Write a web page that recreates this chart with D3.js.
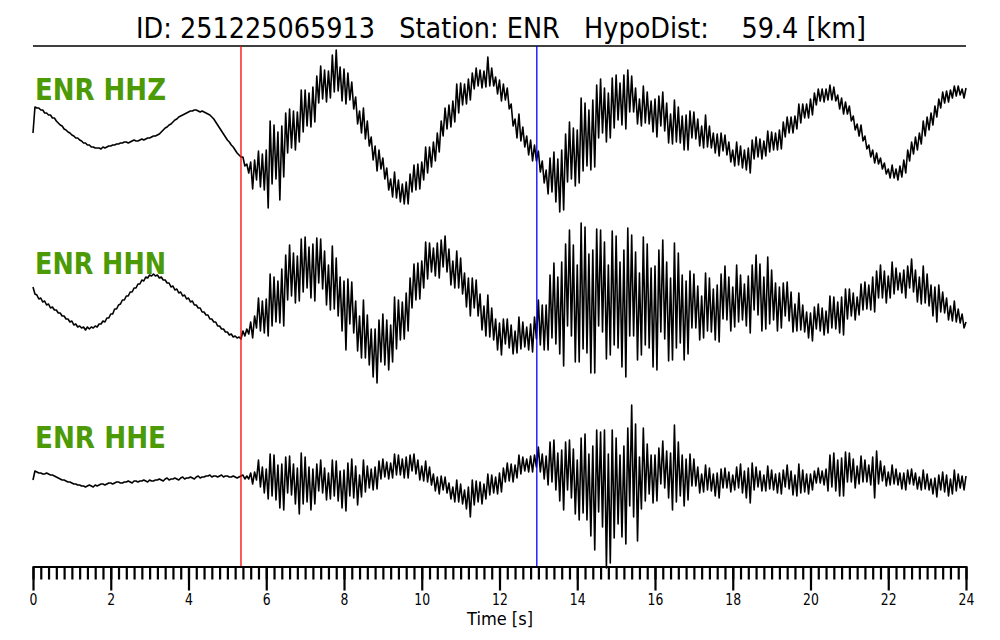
<!DOCTYPE html>
<html><head><meta charset="utf-8">
<script src="https://cdn.jsdelivr.net/npm/d3@7"></script>
<style>body{margin:0;background:#fff}svg{display:block}</style>
</head><body>
<svg id="c" width="1000" height="640"></svg>
<script>
// ---------------- data ----------------
const titleText = "ID: 251225065913   Station: ENR   HypoDist:    59.4 [km]";
const channels = ["ENR HHZ", "ENR HHN", "ENR HHE"];
const sampleInterval = 0.05; // seconds between samples
const pickTimes = [5.35, 12.96]; // P (red), S (blue)
const majorTickValues = [0, 2, 4, 6, 8, 10, 12, 14, 16, 18, 20, 22, 24];
const axisLabel = "Time [s]";

// one row = 1 s (20 samples)
const hhz = [
 -3,23,22,22,20,20,17,17,15,15,12,12,9,7,5,4,1,0,-2,-3,
 -5,-6,-8,-8,-10,-11,-13,-13,-15,-15,-17,-17,-18,-18,-18,-19,-17,-18,-17,-16,
 -16,-15,-15,-14,-14,-13,-13,-12,-12,-13,-12,-11,-10,-11,-11,-10,-9,-10,-9,-8,
 -8,-7,-6,-6,-5,-4,-2,0,2,3,5,6,8,10,11,13,14,15,16,17,
 18,19,19,20,20,19,18,19,18,17,16,15,13,11,8,5,2,-1,-4,-7,
 -10,-12,-15,-17,-20,-23,-25,-27,-27,-36,-34,-43,-32,-59,-30,-50,-21,-57,-24,-60,
 -20,-78,9,-54,5,-49,-2,-70,4,-47,17,-23,21,-18,19,-20,18,-12,40,-2,
 40,4,37,3,43,8,54,27,64,31,60,28,59,32,75,38,80,39,63,29,
 61,26,57,30,48,21,33,6,19,-3,22,-9,9,-16,-7,-30,-16,-41,-20,-39,
 -28,-49,-38,-60,-49,-67,-42,-68,-50,-72,-54,-74,-52,-74,-44,-62,-35,-60,-34,-59,
 -32,-50,-17,-43,-17,-37,-12,-31,-3,-22,9,-6,22,1,25,3,29,8,46,17,
 47,25,46,26,51,30,57,41,62,44,60,42,59,43,73,44,62,44,53,36,
 50,29,46,30,42,21,26,4,11,-8,16,-11,3,-17,-6,-25,-10,-31,-15,-31,
 -21,-42,-31,-53,-40,-64,-28,-62,-22,-72,-29,-82,-20,-80,-4,-52,8,-49,2,-56,
 0,-53,32,-41,27,-36,20,-40,30,-37,45,-8,51,-3,42,-12,37,-8,52,2,
 55,10,47,5,55,1,60,18,54,18,42,6,31,4,44,7,38,6,29,-2,
 31,-7,34,4,38,-1,27,-13,16,-14,30,-12,23,-13,14,-20,15,-20,19,-8,
 18,-9,11,-16,4,-18,15,-17,4,-18,-3,-23,-4,-26,-3,-21,-5,-25,-12,-32,
 -20,-36,-12,-35,-16,-38,-20,-40,-18,-43,-10,-29,-7,-27,-9,-29,-11,-26,-1,-22,
 -2,-20,-3,-20,0,-19,8,-7,13,-3,13,-3,14,1,26,7,26,12,26,12,
 31,15,37,25,41,29,41,28,41,30,45,30,43,29,35,21,32,16,28,16,
 24,9,14,0,6,-6,5,-11,-6,-19,-15,-27,-20,-33,-23,-34,-28,-39,-33,-44,
 -39,-48,-35,-48,-39,-50,-36,-47,-30,-43,-20,-31,-12,-24,-7,-20,-3,-14,9,-6,
 13,0,17,5,24,13,31,22,38,27,39,28,40,32,44,34,44,35,41,32,
 42
];
const hhn = [
 18,11,10,6,7,3,4,0,1,-3,-2,-5,-5,-8,-8,-11,-11,-14,-14,-17,
 -16,-20,-19,-22,-21,-23,-22,-25,-22,-24,-22,-23,-21,-22,-19,-19,-16,-17,-13,-13,
 -9,-9,-4,-4,0,1,5,5,9,9,13,13,17,17,21,21,25,24,28,27,
 30,29,31,29,30,27,28,25,25,22,22,18,19,15,16,12,13,9,10,6,
 7,3,4,0,0,-3,-3,-7,-7,-10,-10,-14,-14,-17,-17,-21,-21,-24,-24,-27,
 -27,-30,-29,-32,-31,-33,-32,-34,-26,-31,-24,-29,-17,-33,-11,-23,7,-26,4,-28,
 6,-31,31,-21,28,-17,24,-18,36,-21,50,5,60,9,52,2,49,4,66,13,
 68,17,58,7,61,4,67,22,66,16,54,0,40,-5,59,-4,47,-11,28,-26,
 24,-45,26,-19,23,-28,4,-46,-11,-53,5,-53,-10,-60,-24,-72,-24,-78,-15,-57,
 -9,-60,-15,-65,-20,-57,8,-44,5,-35,3,-34,12,-26,27,-3,41,5,42,6,
 44,17,63,26,62,33,57,29,62,27,65,38,69,33,56,20,44,17,54,17,
 47,11,32,-2,27,-11,27,-3,25,-11,11,-25,-1,-31,10,-32,-3,-35,-14,-45,
 -18,-50,-14,-39,-14,-43,-20,-49,-26,-48,-12,-44,-17,-42,-22,-45,-19,-47,-12,-34,
 5,-40,0,-45,0,-45,30,-33,42,-39,28,-49,43,-61,61,-21,75,-31,60,-57,
 40,-57,82,-44,78,-48,51,-68,55,-68,76,-21,75,-27,63,-54,40,-50,74,-40,
 69,-43,43,-62,55,-72,77,-31,70,-31,53,-55,32,-50,68,-40,61,-43,37,-62,
 39,-65,55,-27,65,-34,43,-56,27,-55,62,-43,52,-38,30,-55,24,-49,34,-23,
 31,-23,19,-35,9,-33,32,-26,27,-27,16,-35,20,-37,31,-14,39,-15,28,-26,
 18,-22,40,-17,30,-15,21,-21,29,-28,40,-5,50,-10,41,-26,28,-24,48,-19,
 35,-15,22,-26,18,-23,22,-11,23,-16,13,-27,1,-26,12,-25,0,-27,-7,-33,
 -8,-36,-2,-24,1,-26,-3,-30,-6,-28,9,-23,8,-24,3,-28,8,-30,16,-14,
 16,-11,12,-15,8,-10,21,-5,23,-4,20,-5,28,-7,34,7,40,7,34,2,
 29,7,43,11,37,15,32,12,35,7,39,17,46,13,35,3,28,1,39,2,
 31,-1,20,-11,18,-17,20,-7,13,-8,7,-15,-1,-16,4,-17,-4,-18,-9,-23,
 -17
];
const hhe = [
 0,9,8,7,7,6,6,7,6,5,5,4,3,2,1,0,0,-1,-2,-2,
 -3,-4,-4,-5,-5,-6,-6,-7,-6,-5,-6,-7,-5,-6,-5,-4,-4,-5,-4,-3,
 -3,-4,-3,-2,-2,-3,-3,-2,-2,-1,-2,-3,-1,-1,-2,-1,-1,0,-1,-2,
 0,-1,-1,0,0,1,0,-1,1,2,0,1,1,2,1,0,2,3,1,2,
 2,3,2,1,3,4,2,3,3,4,4,5,3,4,4,3,4,5,3,4,
 4,3,3,4,3,2,3,4,5,1,4,1,7,-4,8,0,20,-7,13,-13,
 11,-19,26,-16,25,-20,15,-28,16,-30,23,-13,24,-15,16,-24,12,-34,27,-24,
 23,-22,13,-30,11,-24,16,-11,20,-13,12,-20,7,-19,20,-16,19,-21,9,-28,
 10,-31,17,-16,21,-18,14,-25,5,-17,20,-12,14,-8,11,-10,13,-9,19,1,
 21,3,18,1,17,2,26,5,25,5,21,2,23,2,25,9,26,6,20,0,
 14,-1,19,-2,13,-5,6,-11,3,-14,4,-10,3,-13,-3,-19,-7,-22,0,-22,
 -4,-24,-10,-29,-7,-37,0,-25,-1,-22,-2,-24,-4,-19,6,-15,5,-13,3,-14,
 7,-12,12,-2,17,-1,16,-2,15,2,25,6,23,9,21,8,24,8,25,13,
 33,8,26,1,24,-5,38,-2,40,-10,27,-21,30,-30,38,-10,40,-18,31,-34,
 20,-40,42,-33,46,-40,26,-56,34,-70,50,-32,48,-47,50,-88,26,-83,50,-58,
 42,-44,25,-57,34,-64,52,-26,75,-37,56,-61,23,-29,52,-21,36,-14,25,-23,
 25,-21,32,-4,39,-8,29,-18,27,-30,55,-22,38,-16,25,-26,21,-20,26,-6,
 21,-6,13,-13,6,-12,15,-10,12,-11,6,-16,7,-18,11,-8,12,-8,8,-12,
 5,-10,13,-8,16,-13,9,-18,12,-23,17,-10,13,-7,9,-11,5,-11,14,-9,
 10,-10,6,-13,7,-14,10,-7,15,-9,9,-15,5,-16,16,-13,10,-12,6,-14,
 6,-10,9,-3,12,-3,9,-5,11,-11,25,-7,27,-11,20,-16,22,-16,28,-2,
 27,-2,21,-8,14,-4,24,-2,20,-2,15,-5,23,-18,29,-4,19,-1,14,-6,
 8,-5,15,-4,11,-5,7,-9,7,-10,10,-4,11,-5,7,-9,3,-10,10,-9,
 6,-10,1,-14,2,-17,5,-10,8,-12,5,-16,1,-14,10,-11,6,-8,4,-10,
 4
];
const traces = [hhz, hhn, hhe];

// ---------------- layout ----------------
const svg = d3.select("#c");
const left = 33, right = 966;
const x = d3.scaleLinear().domain([0, 24]).range([left, right]);
const traceCenters = [130, 305, 480];
const labelBaselines = [100, 274, 448];
const topLineY = 46, axisY = 566.5;
const green = "#4b9a06";

// title
svg.append("text")
  .attr("x", 501).attr("y", 38)
  .attr("text-anchor", "middle")
  .attr("font-family", "DejaVu Sans")
  .attr("font-size", 29)
  .attr("textLength", 730).attr("lengthAdjust", "spacingAndGlyphs")
  .style("white-space", "pre")
  .attr("fill", "#000")
  .text(titleText);

svg.append("line")
  .attr("x1", left).attr("x2", right)
  .attr("y1", topLineY).attr("y2", topLineY)
  .attr("stroke", "#000").attr("stroke-width", 1.5);

// traces
traces.forEach((data, c) => {
  const yc = traceCenters[c];
  const y = d3.scaleLinear().domain([-100, 100]).range([yc + 100, yc - 100]);
  const line = d3.line()
    .x((d, i) => x(Math.min(24, i * sampleInterval)))
    .y(d => y(d));
  svg.append("path")
    .datum(data)
    .attr("d", line)
    .attr("fill", "none")
    .attr("stroke", "#000")
    .attr("stroke-width", 1.6)
    .attr("stroke-linejoin", "round");

  svg.append("text")
    .attr("x", 35).attr("y", labelBaselines[c])
    .attr("font-family", "DejaVu Sans")
    .attr("font-weight", "bold")
    .attr("font-size", 30)
    .attr("textLength", 131).attr("lengthAdjust", "spacingAndGlyphs")
    .attr("fill", green)
    .text(channels[c]);
});

// pick lines
const pickColors = ["#ff0000", "#0000ff"];
pickTimes.forEach((t, i) => {
  svg.append("line")
    .attr("x1", x(t)).attr("x2", x(t))
    .attr("y1", topLineY).attr("y2", axisY)
    .attr("stroke", pickColors[i]).attr("stroke-width", 1.3);
});

// axis
const minorTicks = d3.range(0, 121).map(i => i * 0.2);
const minorAxis = d3.axisBottom(x).tickValues(minorTicks).tickSize(13).tickSizeOuter(0).tickFormat("");
const majorAxis = d3.axisBottom(x).tickValues(majorTickValues).tickSize(24).tickSizeOuter(0).tickFormat(d3.format("d"));

const gMinor = svg.append("g").attr("transform", `translate(0,${axisY})`).call(minorAxis);
const gMajor = svg.append("g").attr("transform", `translate(0,${axisY})`).call(majorAxis);
[gMinor, gMajor].forEach(g => {
  g.select(".domain").attr("stroke", "#000").attr("stroke-width", 2.2);
  g.selectAll(".tick line").attr("stroke", "#000").attr("stroke-width", 2.2);
});
gMajor.selectAll(".tick text")
  .attr("y", 38)
  .attr("dy", 0)
  .attr("font-family", "DejaVu Sans")
  .attr("font-size", 15)
  .attr("fill", "#000")
  .each(function(d) {
    const s = String(d);
    d3.select(this).attr("textLength", 7.9 * s.length).attr("lengthAdjust", "spacingAndGlyphs");
  });

svg.append("text")
  .attr("x", 500).attr("y", 625)
  .attr("text-anchor", "middle")
  .attr("font-family", "DejaVu Sans")
  .attr("font-size", 17)
  .attr("textLength", 66).attr("lengthAdjust", "spacingAndGlyphs")
  .attr("fill", "#000")
  .text(axisLabel);
</script>
</body></html>
